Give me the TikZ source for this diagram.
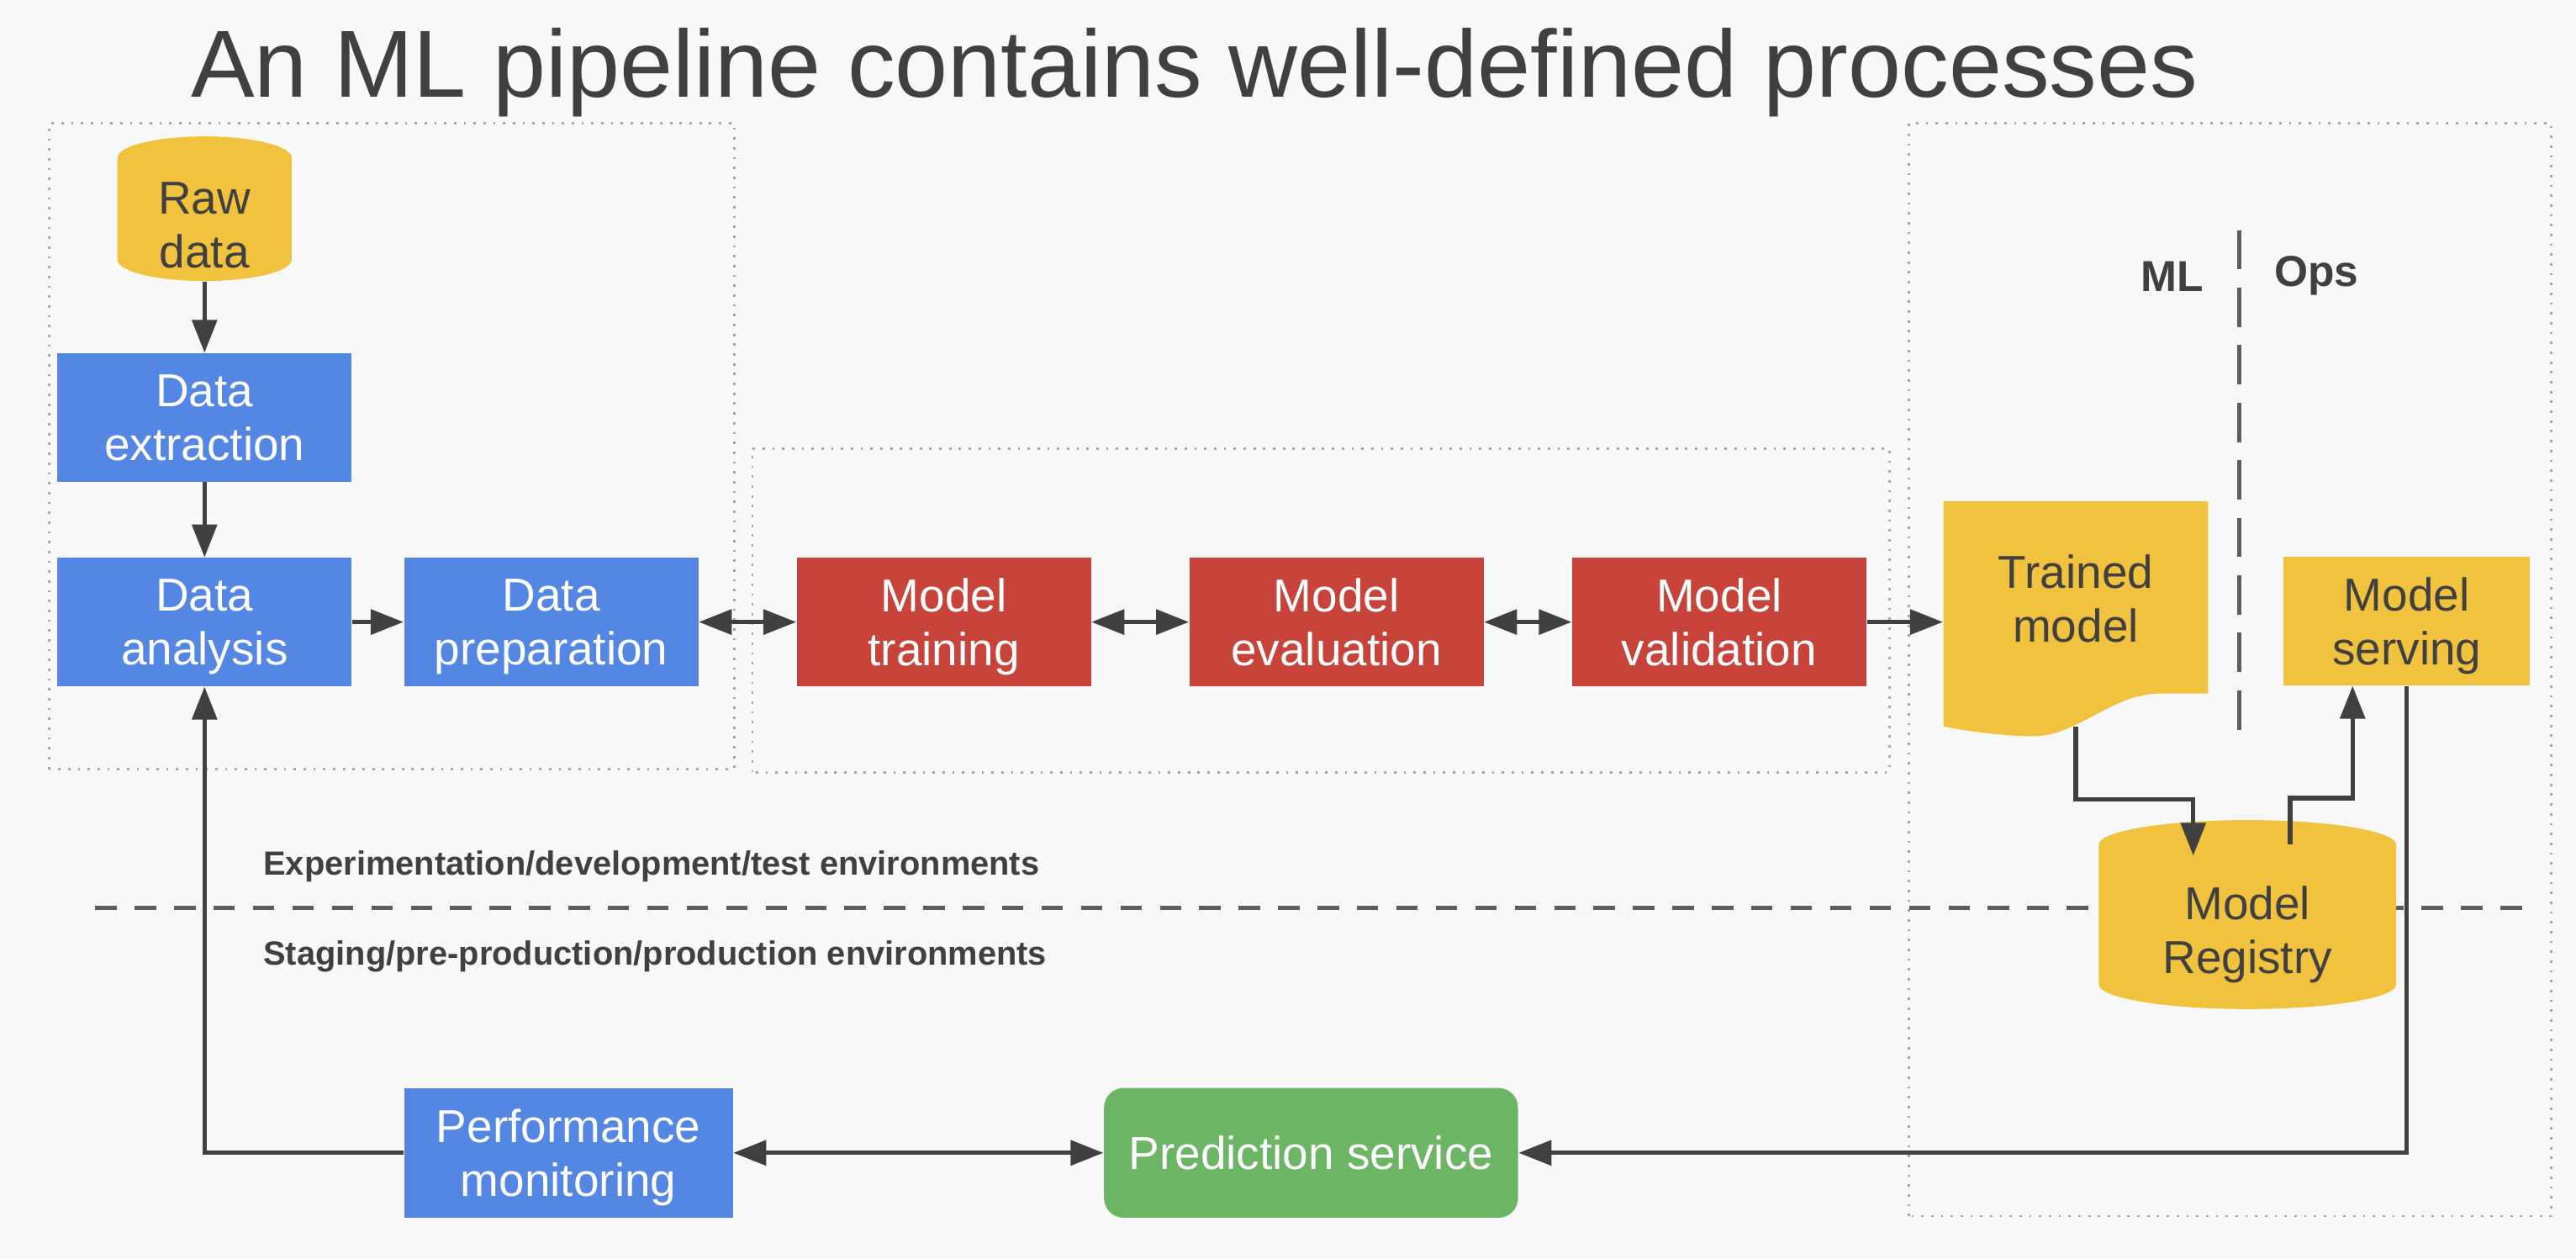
\documentclass[tikz,border=0pt]{standalone}
\usepackage{fontspec}
\setmainfont{Liberation Sans}
\usetikzlibrary{arrows.meta}

\definecolor{pagebg}{HTML}{F8F8F8}
\definecolor{ink}{HTML}{404040}
\definecolor{gblue}{HTML}{5486E3}
\definecolor{gred}{HTML}{C8443B}
\definecolor{gyellow}{HTML}{F0C23E}
\definecolor{ggreen}{HTML}{6BB564}

\begin{document}
\begin{tikzpicture}[
      >={Triangle[length=0.4cm,width=0.3cm]},
      box/.style={rectangle, inner sep=2pt, align=center, text depth=0pt, font=\fontsize{16}{18.6}\selectfont},
      data box/.style={box, fill=gblue, text=white, minimum width=3.58cm, minimum height=1.56cm},
      model box/.style={box, fill=gred, text=white, minimum width=3.58cm, minimum height=1.56cm},
      serve box/.style={box, fill=gyellow, text=ink, minimum width=3.0cm, minimum height=1.56cm},
      store cyl/.style n args={3}{box, text=ink, text height=1.43cm, minimum width=#1cm, minimum height=#2cm,
        path picture={
          \fill[gyellow] ([yshift=#3cm]path picture bounding box.south west)
            -- ([yshift=-#3cm]path picture bounding box.north west)
            arc[start angle=180, end angle=0, x radius={#1/2}, y radius=#3]
            -- ([yshift=#3cm]path picture bounding box.south east)
            arc[start angle=0, end angle=-180, x radius={#1/2}, y radius=#3] -- cycle;}},
      doc sheet/.style={box, text=ink, minimum width=3.22cm, minimum height=2.86cm, text depth=0.5cm,
        path picture={
          \fill[gyellow] ([yshift=0.12cm]path picture bounding box.south west)
            -- (path picture bounding box.north west) -- (path picture bounding box.north east)
            -- ([yshift=0.52cm]path picture bounding box.south east) -- ++(-0.58,0)
            .. controls +(-0.6,0) and ([xshift=1.64cm]path picture bounding box.south west)
            .. ([xshift=1.09cm]path picture bounding box.south west)
            .. controls +(-0.35,0) and ([shift={(0.29,0.06)}]path picture bounding box.south west)
            .. ([yshift=0.12cm]path picture bounding box.south west) -- cycle;}},
      flow/.style={->, line width=1.5pt, draw=ink},
      two way/.style={<->, line width=1.5pt, draw=ink},
      group/.style={draw=gray!70, line width=0.8pt, dash pattern=on 0.8pt off 2.6pt},
      split/.style={draw=ink!85, line width=1.4pt, dash pattern=on 0.26cm off 0.22cm},
      divider/.style={draw=ink!85, line width=1.6pt, dash pattern=on 0.48cm off 0.22cm},
      env label/.style={anchor=west, inner sep=0pt, text=ink, font=\bfseries\fontsize{11.6}{14}\selectfont},
      side label/.style={inner sep=0pt, text=ink, font=\bfseries\fontsize{15}{18}\selectfont}
    ]

    % Page and title
    \useasboundingbox (0,0) rectangle (31.36,15.32);
    \fill[pagebg] (0,0) rectangle (31.36,15.32);
    \node[anchor=base west, inner sep=0pt, text=ink, font=\fontsize{33}{38}\selectfont] (title) at (2.32,14.14) {An ML pipeline contains well-defined processes};

    % Dotted group frames
    \draw[group] (0.6,5.96) rectangle (8.94,13.82);
    \draw[group] (9.16,5.92) rectangle (23.0,9.86);
    \draw[group] (23.24,0.52) rectangle (31.06,13.82);

    % Environment split
    \draw[split] (1.16,4.27) -- (30.8,4.27);
    \node[env label] (dev) at (3.2,4.78) {Experimentation/development/test environments};
    \node[env label] (prod) at (3.2,3.68) {Staging/pre-production/production environments};

    % ML | Ops
    \draw[divider] (27.26,12.52) -- (27.26,6.36);
    \node[side label] (ml) at (26.44,11.96) {ML};
    \node[side label] (ops) at (28.2,11.96) {Ops};

    % Pipeline steps
    \node[store cyl={2.12}{1.76}{0.26}] (raw) at (2.49,12.78) {Raw\\data};
    \node[data box] (extract) at (2.49,10.24) {Data\\extraction};
    \node[data box] (analysis) at (2.49,7.75) {Data\\analysis};
    \node[data box] (prep) at (6.71,7.75) {Data\\preparation};
    \node[model box] (train) at (11.49,7.75) {Model\\training};
    \node[model box] (eval) at (16.27,7.75) {Model\\evaluation};
    \node[model box] (valid) at (20.93,7.75) {Model\\validation};
    \node[doc sheet] (trained) at (25.27,7.79) {Trained\\model};
    \node[serve box] (serving) at (29.30,7.76) {Model\\serving};
    \node[store cyl={3.62}{2.30}{0.30}] (registry) at (27.36,4.19) {Model\\Registry};
    \node[data box, minimum width=4.0cm, minimum height=1.58cm] (perf) at (6.92,1.29) {Performance\\monitoring};
    \node[box, fill=ggreen, text=white, rounded corners=0.24cm, minimum width=5.04cm, minimum height=1.58cm] (pred) at (15.96,1.29) {Prediction service};

    % Connectors
    \draw[flow] (raw) -- (extract);
    \draw[flow] (extract) -- (analysis);
    \draw[flow] (analysis) -- (prep);
    \foreach \a/\b in {prep/train, train/eval, eval/valid}
      \draw[two way] (\a) -- (\b);
    \draw[flow] (valid.east) -- (valid.east -| trained.west);
    \draw[flow] ([yshift=0.12cm]trained.south) -- ++(0,-0.88) -| ([xshift=-0.66cm,yshift=-0.44cm]registry.north);
    \draw[flow] ([xshift=0.52cm,yshift=-0.30cm]registry.north) -- ++(0,0.56) -| ([xshift=-0.66cm]serving.south);
    \draw[flow] (serving.south) |- (pred.east);
    \draw[two way] (perf) -- (pred);
    \draw[flow] (perf.west) -| (analysis.south);

  \end{tikzpicture}
\end{document}
